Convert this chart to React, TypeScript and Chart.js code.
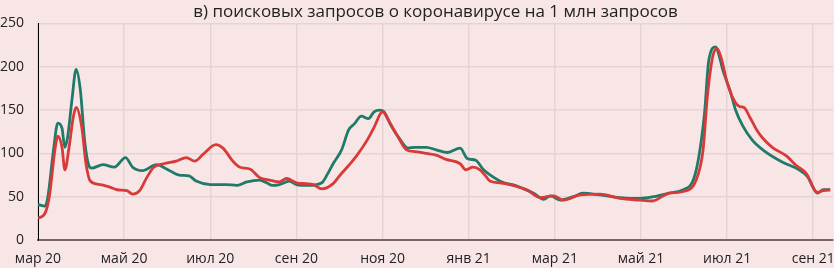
import React, { useEffect, useRef } from "react";
import { Chart, registerables } from "chart.js";

Chart.register(...registerables);

const tickDays = [0, 61, 122, 183, 244, 305, 366, 427, 488, 549];
const tickLabels = ["мар 20", "май 20", "июл 20", "сен 20", "ноя 20", "янв 21", "мар 21", "май 21", "июл 21", "сен 21"];
const yTicks = [0, 50, 100, 150, 200, 250];

const redDays = [0, 5, 8, 12, 14, 17, 19, 22, 25, 27, 31, 34, 37, 44, 51, 56, 63, 67, 72, 77, 82, 89, 98, 105, 111, 117, 126, 131, 138, 143, 150, 157, 164, 171, 176, 183, 190, 195, 201, 209, 214, 220, 226, 233, 238, 244, 249, 255, 261, 267, 275, 282, 289, 299, 303, 308, 313, 317, 320, 327, 334, 346, 356, 365, 372, 384, 398, 412, 426, 435, 443, 447, 457, 466, 471, 474, 478, 481, 484, 488, 493, 497, 500, 504, 509, 513, 520, 530, 537, 544, 552, 556, 561];
const redValues = [25, 31, 50, 104, 120, 107, 81, 107, 142, 153, 130, 88, 68, 64, 61, 58, 57, 53, 57, 72, 84, 88, 91, 95, 91, 99, 110, 106, 91, 84, 82, 72, 69, 67, 71, 66, 65, 64, 59, 65, 75, 86, 98, 115, 130, 148, 136, 119, 104, 102, 100, 98, 93, 88, 81, 84, 81, 74, 68, 66, 64, 58, 49, 51, 46, 52, 53, 48, 46, 45, 51, 54, 56, 69, 104, 165, 213, 221, 209, 182, 161, 154, 153, 142, 127, 118, 107, 97, 86, 77, 55, 57, 58];

const tealDays = [0, 5, 7, 11, 14, 17, 19, 21, 24, 27, 30, 33, 36, 38, 46, 54, 62, 67, 74, 84, 91, 100, 107, 112, 122, 133, 141, 148, 157, 162, 166, 171, 178, 183, 192, 201, 205, 209, 215, 220, 224, 229, 234, 238, 242, 245, 250, 256, 262, 267, 275, 282, 290, 299, 304, 310, 315, 323, 330, 336, 344, 351, 358, 363, 370, 379, 386, 398, 412, 426, 436, 447, 457, 464, 468, 472, 475, 480, 482, 485, 490, 494, 499, 506, 515, 527, 539, 545, 552, 556, 561];
const tealValues = [41, 39, 50, 104, 135, 129, 107, 119, 161, 197, 173, 115, 86, 83, 87, 84, 95, 84, 80, 87, 82, 75, 74, 68, 64, 64, 63, 67, 69, 66, 63, 64, 68, 64, 63, 66, 76, 88, 104, 127, 134, 143, 140, 148, 150, 148, 132, 117, 106, 107, 107, 104, 101, 106, 94, 92, 82, 72, 66, 64, 59, 54, 47, 51, 46, 50, 54, 52, 49, 48, 50, 54, 58, 69, 96, 146, 207, 223, 215, 196, 173, 150, 132, 115, 102, 90, 81, 73, 54, 58, 58];

const BG = "#f8e6e6";

export default function App() {
  const ref = useRef<HTMLCanvasElement | null>(null);
  useEffect(() => {
    document.body.style.margin = "0";
    document.body.style.background = BG;
    const canvas = ref.current!;
    const mk = (d: number[], v: number[]) => d.map((x, i) => ({ x, y: v[i] }));
    const chart = new Chart(canvas, {
      type: "line",
      data: {
        datasets: [
          {
            data: mk(redDays, redValues),
            borderColor: "#d83a3a",
            borderWidth: 2.8,
            pointRadius: 0,
            cubicInterpolationMode: "monotone",
            fill: false,
          },
          {
            data: mk(tealDays, tealValues),
            borderColor: "#1f7a68",
            borderWidth: 2.8,
            pointRadius: 0,
            cubicInterpolationMode: "monotone",
            fill: false,
          },
        ],
      },
      options: {
        animation: false,
        responsive: false,
        layout: { padding: { left: 0, right: 1, top: 0, bottom: 0 } },
        plugins: {
          legend: { display: false },
          tooltip: { enabled: false },
          title: {
            display: true,
            fullSize: false,
            text: "в) поисковых запросов о коронавирусе на 1 млн запросов",
            color: "#222",
            font: { family: "Open Sans", size: 17, weight: "normal" },
            padding: { top: 2, bottom: 1 },
          },
        },
        scales: {
          x: {
            type: "linear",
            min: 0,
            max: 563,
            afterBuildTicks: (axis: any) => {
              axis.ticks = tickDays.map((v) => ({ value: v }));
            },
            afterFit: (axis: any) => {
              axis.paddingLeft = 0;
              axis.paddingRight = 0;
              axis.height = 28;
            },
            ticks: {
              autoSkip: false,
              maxRotation: 0,
              padding: 11,
              color: "#222",
              font: { family: "Open Sans", size: 14 },
              callback: (_v: any, i: number) => tickLabels[i],
            },
            grid: { color: "#e6d4d4", lineWidth: 1.5, drawTicks: false },
            border: { display: true, color: "#7a6464", width: 2 },
          },
          y: {
            min: 0,
            max: 250,
            afterBuildTicks: (axis: any) => {
              axis.ticks = yTicks.map((v) => ({ value: v }));
            },
            afterFit: (axis: any) => {
              axis.width = 38;
              axis.paddingTop = 0;
              axis.paddingBottom = 0;
            },
            ticks: {
              padding: 14,
              color: "#222",
              font: { family: "Open Sans", size: 14 },
            },
            grid: { color: "#e6d4d4", lineWidth: 1.5, drawTicks: false },
            border: { display: true, color: "#000", width: 1 },
          },
        },
      },
    });
    return () => chart.destroy();
  }, []);
  return (
    <div style={{ width: 834, height: 268, background: BG }}>
      <canvas ref={ref} width={834} height={268} />
    </div>
  );
}
